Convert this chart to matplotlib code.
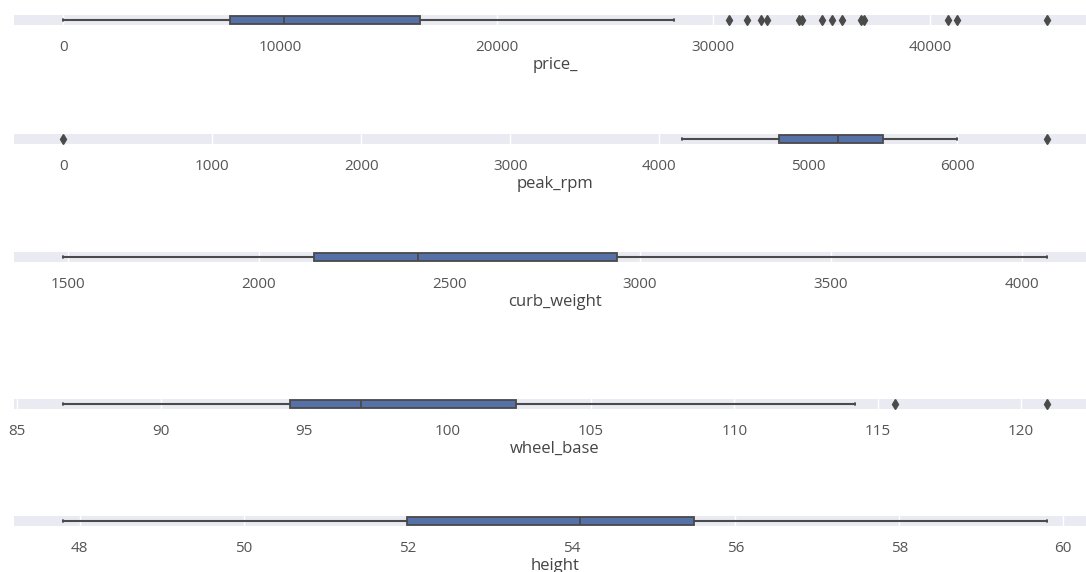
import matplotlib
matplotlib.use('Agg')
import matplotlib.pyplot as plt
import seaborn as sns

sns.set_style('darkgrid')
plt.rcParams['font.family'] = ['Open Sans', 'DejaVu Sans']

COLUMNS = ['price_', 'peak_rpm', 'curb_weight', 'wheel_base', 'height']

# five-number summaries
WHISLO = [0, 4150, 1488, 86.6, 47.8]
Q1 = [7700, 4800, 2145, 94.5, 52.0]
MED = [10180, 5200, 2417, 97.0, 54.1]
Q3 = [16480, 5500, 2939, 102.4, 55.5]
WHISHI = [28200, 6000, 4066, 114.2, 59.8]
FLIERS = [
    [30740, 31580, 32230, 32470, 33960, 34090, 35010, 35500, 35960,
     36830, 36960, 40840, 41260, 45400],
    [0, 6600],
    [],
    [115.6, 120.9],
    [],
]

BOX_COLOR = '#5571a8'
GRAY = '#4a4a4a'

W, H = 1086, 572
TOPS = [15, 134, 252, 399, 516]  # top of each strip, px
STRIP_H = 10

fig = plt.figure(figsize=(W / 100, H / 100), dpi=100)

for i, name in enumerate(COLUMNS):
    ax = fig.add_axes([14 / W, 1 - (TOPS[i] + STRIP_H) / H, 1082 / W, STRIP_H / H])
    stats = [{
        'whislo': WHISLO[i], 'q1': Q1[i], 'med': MED[i],
        'q3': Q3[i], 'whishi': WHISHI[i], 'fliers': FLIERS[i],
    }]
    ax.bxp(
        stats, positions=[0], widths=0.8, vert=False, patch_artist=True,
        capwidths=0.25,
        boxprops=dict(facecolor=BOX_COLOR, edgecolor=GRAY, lw=1.3),
        medianprops=dict(color=GRAY, lw=1.3),
        whiskerprops=dict(color=GRAY, lw=1.5),
        capprops=dict(color=GRAY, lw=1.3),
        flierprops=dict(marker='d', markersize=5, markerfacecolor=GRAY,
                        markeredgecolor=GRAY),
    )
    ax.margins(x=0.05)
    ax.set_ylim(0.5, -0.5)
    ax.set_yticks([])
    ax.tick_params(axis='x', labelsize=11, labelcolor='#555555', pad=11, length=0)
    ax.set_xlabel(name, fontsize=12, color='#444444', labelpad=1)
    ax.grid(True, axis='x', color='white', lw=1.0)
    for s in ax.spines.values():
        s.set_visible(False)

fig.savefig('out.png', dpi=100, facecolor='white')
